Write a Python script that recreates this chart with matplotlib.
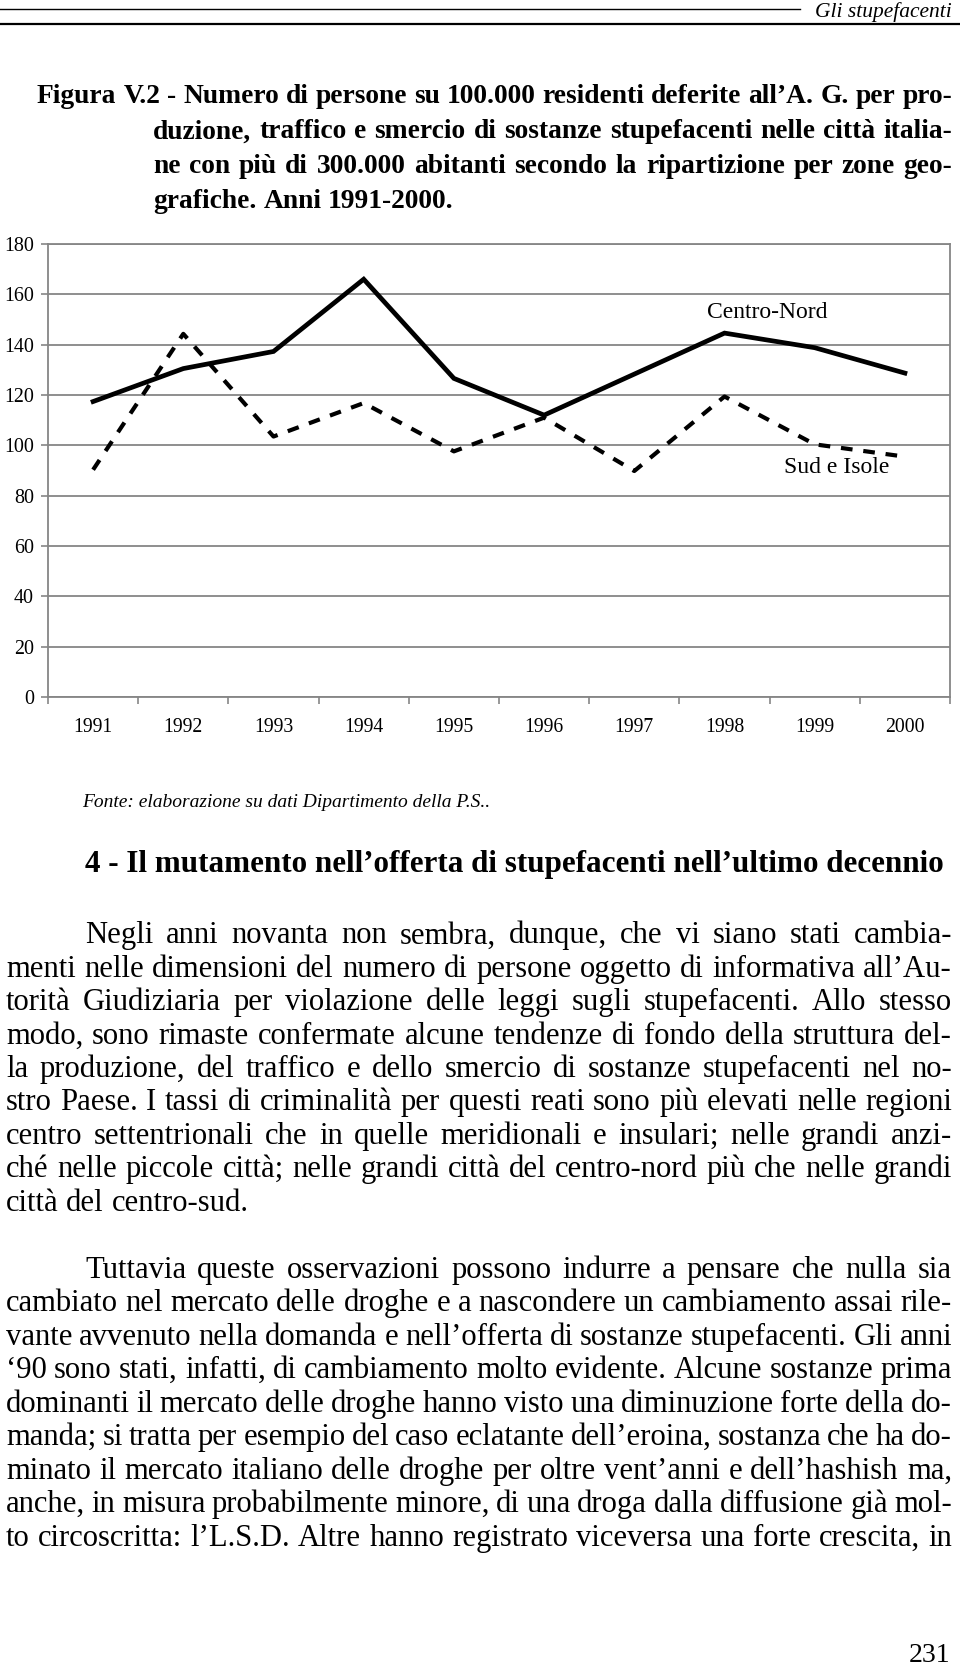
import matplotlib
matplotlib.use("Agg")
import matplotlib.pyplot as plt
from matplotlib.font_manager import FontProperties
from matplotlib.lines import Line2D
import numpy as np

# chart data
years = ["1991", "1992", "1993", "1994", "1995", "1996", "1997", "1998", "1999", "2000"]
centro_nord = [117.4, 130.5, 137.3, 166.0, 126.6, 112.0, 128.3, 144.6, 138.8, 128.7]
sud_isole = [90.3, 144.3, 103.5, 116.8, 97.6, 111.0, 89.8, 119.4, 100.4, 95.5]
yticks = list(range(0, 181, 20))

header = "Gli stupefacenti"
title_lines = [
    "Figura V.2 - Numero di persone su 100.000 residenti deferite all\u2019A. G.  per pro-",
    "duzione, traffico e smercio di sostanze stupefacenti nelle citt\u00e0 italia-",
    "ne con pi\u00f9 di 300.000 abitanti secondo la ripartizione per zone geo-",
    "grafiche. Anni 1991-2000.",
]
fonte = "Fonte: elaborazione su dati Dipartimento della P.S.."
heading = "4 - Il mutamento nell\u2019offerta di stupefacenti nell\u2019ultimo decennio"
para1 = [
    "Negli anni novanta non sembra, dunque, che vi siano stati cambia-",
    "menti nelle dimensioni del numero di persone oggetto di informativa all\u2019Au-",
    "torit\u00e0 Giudiziaria per violazione delle leggi sugli stupefacenti. Allo stesso",
    "modo, sono rimaste confermate alcune tendenze di fondo della struttura del-",
    "la produzione, del traffico e dello smercio di sostanze stupefacenti nel no-",
    "stro Paese. I tassi di criminalit\u00e0 per questi reati sono pi\u00f9 elevati nelle regioni",
    "centro settentrionali che in quelle meridionali e insulari; nelle grandi anzi-",
    "ch\u00e9 nelle piccole citt\u00e0; nelle grandi citt\u00e0 del centro-nord pi\u00f9 che nelle grandi",
    "citt\u00e0 del centro-sud.",
]
para2 = [
    "Tuttavia queste osservazioni possono indurre a pensare che nulla sia",
    "cambiato nel mercato delle droghe e a nascondere un cambiamento assai rile-",
    "vante avvenuto nella domanda e nell\u2019offerta di sostanze stupefacenti. Gli anni",
    "\u201890 sono stati, infatti, di cambiamento molto evidente. Alcune sostanze prima",
    "dominanti il mercato delle droghe hanno visto una diminuzione forte della do-",
    "manda; si tratta per esempio del caso eclatante dell\u2019eroina, sostanza che ha do-",
    "minato il mercato italiano delle droghe per oltre vent\u2019anni e dell\u2019hashish ma,",
    "anche, in misura probabilmente minore, di una droga dalla diffusione gi\u00e0 mol-",
    "to circoscritta: l\u2019L.S.D. Altre hanno registrato viceversa una forte crescita, in",
]
page_no = "231"

W, H = 960, 1668
fig = plt.figure(figsize=(W / 100, H / 100), dpi=100)
renderer = fig.canvas.get_renderer()
SERIF = "Liberation Serif"
GRID = "#868686"


def fx(x): return x / W
def fy(y): return 1 - y / H


def font(size, weight="normal", style="normal"):
    return FontProperties(family=SERIF, size=size, weight=weight, style=style)


def width(s, prop):
    return renderer.get_text_width_height_descent(s, prop, ismath=False)[0]


def size_for(s, w, weight="normal", style="normal"):
    return 20 * w / width(" ".join(s.split()), font(20, weight, style))


def fit(lines, spans, size, weight="normal"):
    # shrink until every justified line fits with a sensible gap
    for line, (x0, x1) in zip(lines, spans):
        p = font(size, weight)
        words = line.split()
        need = sum(width(w, p) for w in words) + 0.16 * size * 100 / 72 * (len(words) - 1)
        if need > x1 - x0:
            size *= (x1 - x0) / need
    return size


def justify(line, x0, x1, y, prop, last=False):
    words = line.split()
    ws = [width(w, prop) for w in words]
    if last or len(words) == 1:
        gap = width("a a", prop) - 2 * width("a", prop)
    else:
        gap = (x1 - x0 - sum(ws)) / (len(words) - 1)
    x = x0
    for w, wd in zip(words, ws):
        fig.text(fx(x), fy(y), w, fontproperties=prop, ha="left", va="baseline")
        x += wd + gap


# running header
fig.add_artist(Line2D([0, fx(800)], [fy(9), fy(9)], color="black", lw=1.0))
fig.add_artist(Line2D([0, 1], [fy(23.5), fy(23.5)], color="black", lw=1.6))
fig.text(fx(952), fy(17), header, fontproperties=font(15.5, style="italic"),
         ha="right", va="baseline")

# figure caption: as large as the justified lines allow
tspans = [(37, 952), (153, 952), (153, 952)]
ts = min(size_for(l, x1 - x0, "bold") for l, (x0, x1) in zip(title_lines[:3], tspans))
tp = font(ts, "bold")
for i, line in enumerate(title_lines):
    x0 = 37 if i == 0 else 153
    justify(line, x0, 952, 103.3 + i * 35.0, tp, last=(i == 3))

# chart
ax = fig.add_axes([fx(48), fy(697), (950 - 48) / W, (697 - 244) / H])
x = np.arange(len(years))
ax.plot(x, centro_nord, color="black", lw=3.4, solid_joinstyle="miter")
ax.plot(x, sud_isole, color="black", lw=3.0, linestyle=(0, (2.8, 2.6)),
        dash_capstyle="butt")
ax.set_xlim(-0.5, len(years) - 0.5)
ax.set_ylim(0, 180)
ax.set_yticks(yticks)
ax.set_xticks(x)
ax.set_xticklabels(years)
ax.set_xticks(np.arange(-0.5, len(years)), minor=True)
ax.tick_params(axis="x", which="major", length=0, pad=15)
ax.tick_params(axis="x", which="minor", length=5, width=1.2, color=GRID, direction="out")
ax.tick_params(axis="y", length=5, width=1.2, color=GRID, direction="out", pad=5)
for lab in ax.get_xticklabels():
    lab.set_fontproperties(font(14.2))
for lab in ax.get_yticklabels():
    lab.set_fontproperties(font(14.4))
ax.yaxis.grid(True, color=GRID, lw=1.3)
ax.set_axisbelow(True)
for sp in ax.spines.values():
    sp.set_color(GRID)
    sp.set_linewidth(1.3)
ax.text(7.47, 152.7, "Centro-Nord", fontproperties=font(17), ha="center", va="center")
ax.text(8.24, 91.0, "Sud e Isole", fontproperties=font(17), ha="center", va="center")

# source note
fig.text(fx(82), fy(807), fonte,
         fontproperties=font(size_for(fonte, 408, style="italic"), style="italic"),
         ha="left", va="baseline")

# section heading
fig.text(fx(85), fy(872), heading,
         fontproperties=font(size_for(heading, 860, "bold"), "bold"),
         ha="left", va="baseline")

# body text
bs = size_for(para1[-1], 242)
spans1 = [(85, 952)] + [(6, 952)] * 7
spans2 = [(85, 952)] + [(6, 952)] * 8
bs = fit(para1[:-1], spans1, bs)
bs = fit(para2, spans2, bs)
bp = font(bs)
for i, line in enumerate(para1):
    x0 = 85 if i == 0 else 6
    justify(line, x0, 952, 943.4 + i * 33.39, bp, last=(i == len(para1) - 1))
for i, line in enumerate(para2):
    x0 = 85 if i == 0 else 6
    justify(line, x0, 952, 1277.6 + i * 33.5, bp)

fig.text(fx(950), fy(1662), page_no, fontproperties=font(20), ha="right", va="baseline")

fig.savefig("out.png", dpi=100)
